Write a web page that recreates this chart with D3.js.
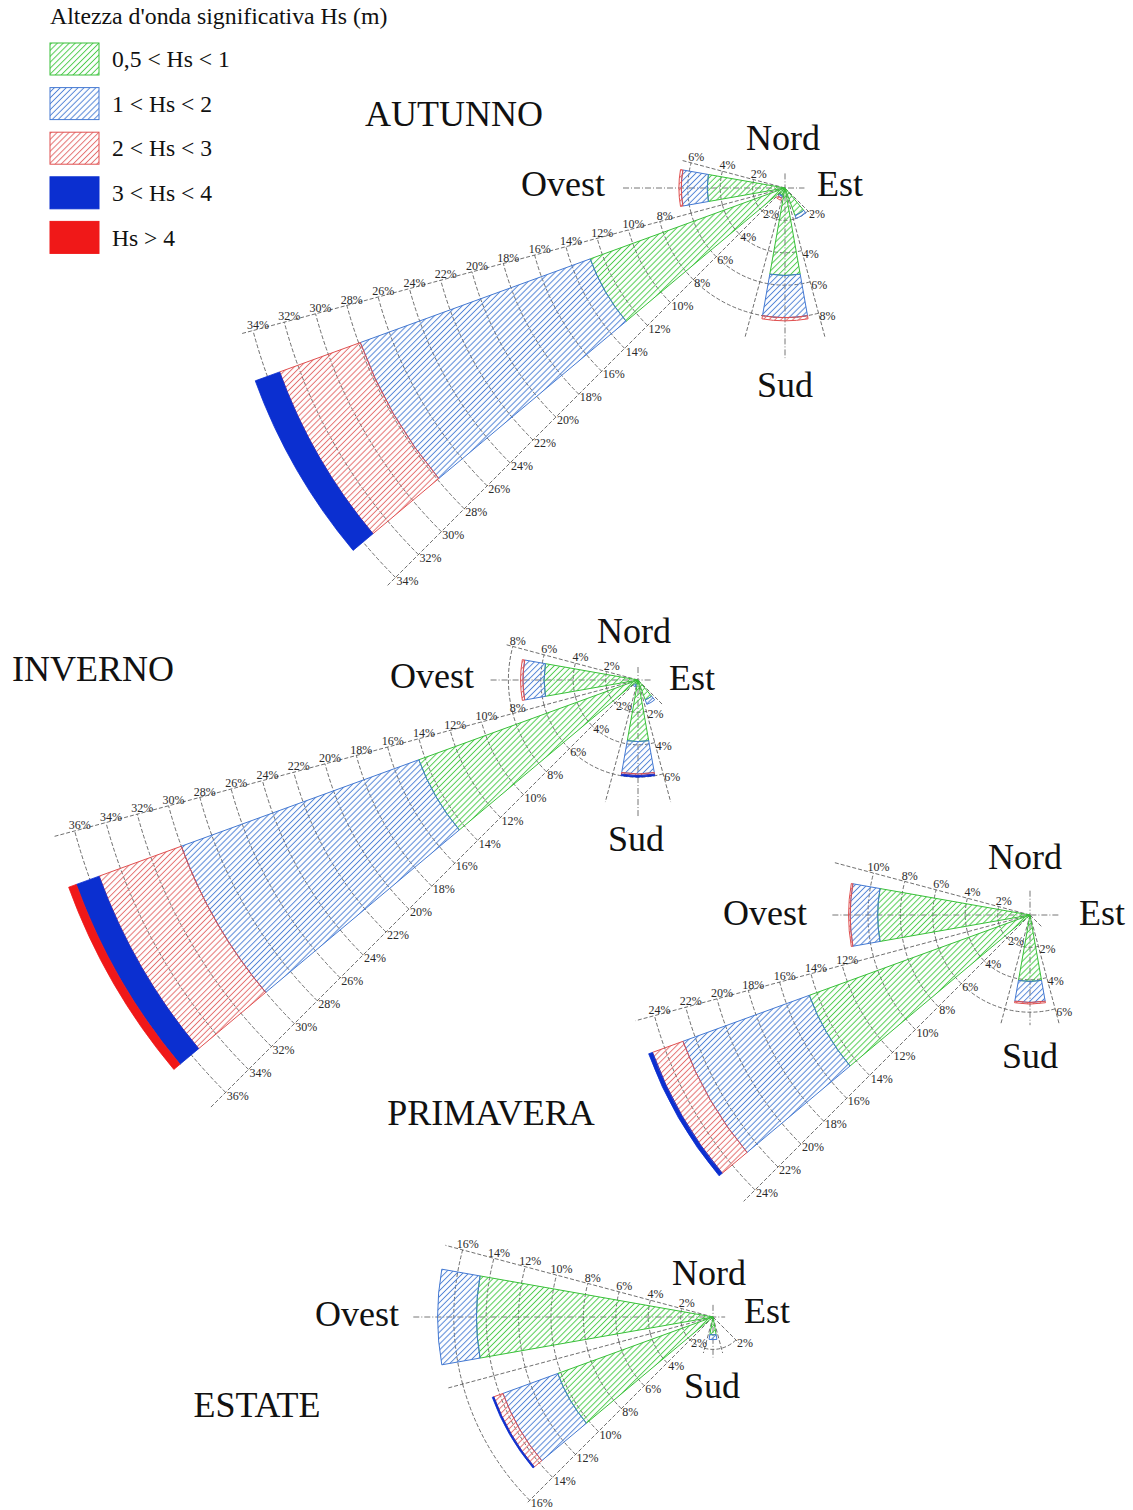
<!DOCTYPE html>
<html>
<head>
<meta charset="utf-8">
<script src="https://cdn.jsdelivr.net/npm/d3@7"></script>
<style>
  html, body { margin: 0; padding: 0; background: #fff; }
  svg { display: block; }
  text { font-family: "Liberation Serif", "Times New Roman", serif; }
</style>
</head>
<body>
<svg id="chart" width="1133" height="1510"></svg>
<script>
// Significant wave height classes (legend order)
const classes = ["0,5 < Hs < 1", "1 < Hs < 2", "2 < Hs < 3", "3 < Hs < 4", "Hs > 4"];
const legendTitle = "Altezza d'onda significativa Hs (m)";
const compassNames = ["Nord", "Est", "Sud", "Ovest"];
const seasons = ["AUTUNNO", "INVERNO", "PRIMAVERA", "ESTATE"];

// Frequency of occurrence (%) per direction sector (bearing, degrees), one value per class
const autunnoDirections = [150, 180, 210, 240, 270];
const autunnoFreq = [
  [1.8, 0.2, 0, 0, 0],
  [5.4, 2.6, 0.2, 0, 0],
  [0.5, 0.15, 0.15, 0, 0],
  [12.8, 15.1, 5.3, 1.6, 0],
  [4.8, 1.6, 0.15, 0, 0]
];
const invernoDirections = [150, 180, 210, 240, 270];
const invernoFreq = [
  [1.3, 0.3, 0, 0, 0],
  [3.8, 2.0, 0.1, 0.1, 0],
  [0.3, 0.15, 0, 0, 0],
  [14.4, 15.6, 5.4, 1.5, 0.5],
  [5.8, 1.3, 0.15, 0, 0]
];
const primaveraDirections = [180, 240, 270];
const primaveraFreq = [
  [4.1, 1.3, 0.1, 0, 0],
  [14.5, 8.3, 2.0, 0.25, 0],
  [9.4, 1.7, 0.1, 0, 0]
];
const estateDirections = [180, 240, 270];
const estateFreq = [
  [1.1, 0.3, 0, 0, 0],
  [10.2, 3.6, 0.6, 0.1, 0],
  [14.6, 2.4, 0, 0, 0]
];

// Frequency rings: [from bearing, to bearing, outermost ring %]
const autunnoRings = [[135, 165, 2], [165, 225, 8], [225, 255, 34], [255, 285, 6]];
const invernoRings = [[165, 225, 6], [225, 255, 36], [255, 285, 8]];
const primaveraRings = [[165, 225, 6], [225, 255, 24], [255, 285, 10]];
const estateRings = [[135, 225, 2], [225, 255, 16], [255, 285, 16]];

// Sector boundary lines: [bearing, length %]
const autunnoSpokes = [[135, 2.4], [165, 9.5], [195, 9.5], [225, 34.8], [255, 34.8], [285, 6.6]];
const invernoSpokes = [[135, 2.2], [165, 7.8], [195, 7.8], [225, 37.4], [255, 37.4], [285, 8.5]];
const primaveraSpokes = [[135, 1.0], [165, 7.0], [195, 7.0], [225, 25.0], [255, 25.2], [285, 12.5]];
const estateSpokes = [[135, 2.3], [165, 2.3], [195, 2.3], [225, 16.3], [255, 17.0], [285, 17.1]];

// Ring labels: [bearing of boundary line, first ring %, last ring %, side]
const autunnoTicks = [[285, 2, 6, "up"], [255, 8, 34, "up"], [225, 2, 34, "down"], [165, 4, 8, "down"], [135, 2, 2, "down"]];
const invernoTicks = [[285, 2, 8, "up"], [255, 8, 36, "up"], [225, 2, 36, "down"], [165, 2, 6, "down"]];
const primaveraTicks = [[285, 2, 10, "up"], [255, 12, 24, "up"], [225, 2, 24, "down"], [165, 2, 6, "down"]];
const estateTicks = [[285, 2, 16, "up"], [225, 2, 16, "down"], [135, 2, 2, "down"]];

// Cross-hair reach (%): [west, east, north, south]
const autunnoCross = [10, 1.2, 0.9, 10.5];
const invernoCross = [9.1, 0.8, 0.8, 8.5];
const primaveraCross = [12.2, 1.8, 1.5, 6.8];
const estateCross = [18.5, 0.75, 0.75, 2.5];

// ---- drawing ----
const svg = d3.select("#chart");
const defs = svg.append("defs");

const hatchColors = ["#4fcc4f", "#5485d6", "#e47070"];
const edgeColors = ["#38c038", "#4479d2", "#e05050", "#0b2fd0", "#f01818"];
const solidColors = [null, null, null, "#0b2fd0", "#f01818"];

hatchColors.forEach((c, i) => {
  const p = defs.append("pattern")
    .attr("id", "hatch" + i)
    .attr("patternUnits", "userSpaceOnUse")
    .attr("width", 4.2).attr("height", 4.2)
    .attr("patternTransform", "rotate(-45)");
  p.append("line")
    .attr("x1", -1).attr("y1", 2.1).attr("x2", 5.2).attr("y2", 2.1)
    .attr("stroke", c).attr("stroke-width", 1);
});
const fillFor = k => k < 3 ? `url(#hatch${k})` : solidColors[k];

const r = d3.scaleLinear().domain([0, 40]).range([0, 648]);
const rad = d => d * Math.PI / 180;
const polar = (b, v) => [r(v) * Math.sin(rad(b)), -r(v) * Math.cos(rad(b))];

function drawRose(spec, L) {
  const g = svg.append("g").attr("transform", `translate(${L.cx},${L.cy})`);
  const grid = g.append("g").attr("fill", "none").attr("stroke", "#4a4a4a")
    .attr("stroke-width", 0.8).attr("stroke-dasharray", "4,2");

  // frequency rings
  spec.rings.forEach(([b0, b1, max]) => {
    d3.range(2, max + 0.01, 2).forEach(v => {
      const p = d3.path();
      const R = r(v), t0 = rad(b0 - 90), t1 = rad(b1 - 90);
      p.moveTo(R * Math.cos(t0), R * Math.sin(t0));
      p.arc(0, 0, R, t0, t1);
      grid.append("path").attr("d", p.toString());
    });
  });

  // sector boundary lines
  spec.spokes.forEach(([b, len]) => {
    const [x, y] = polar(b, len);
    grid.append("line").attr("x1", 0).attr("y1", 0).attr("x2", x).attr("y2", y);
  });

  // cross-hair
  const [cw, ce, cn, cs] = spec.cross;
  const cross = g.append("g").attr("stroke", "#666").attr("stroke-width", 0.9)
    .attr("stroke-dasharray", "6,2,1,2");
  cross.append("line").attr("x1", polar(270, cw)[0]).attr("y1", 0).attr("x2", polar(90, ce)[0]).attr("y2", 0);
  cross.append("line").attr("x1", 0).attr("y1", polar(0, cn)[1]).attr("x2", 0).attr("y2", polar(180, cs)[1]);

  // stacked sectors
  const arc = d3.arc();
  const bars = g.append("g");
  spec.directions.forEach((dir, i) => {
    let acc = 0;
    spec.freq[i].forEach((v, k) => {
      if (v <= 0) return;
      const d = arc({
        innerRadius: r(acc), outerRadius: r(acc + v),
        startAngle: rad(dir - 10), endAngle: rad(dir + 10)
      });
      acc += v;
      bars.append("path").attr("d", d)
        .attr("fill", fillFor(k))
        .attr("stroke", edgeColors[k])
        .attr("stroke-width", k < 3 ? 1 : 0.8)
        .attr("stroke-linejoin", "round");
    });
  });

  // ring labels
  const lab = g.append("g").attr("font-size", 12).attr("fill", "#2a2a2a");
  spec.ticks.forEach(([b, from, to, side]) => {
    d3.range(from, to + 0.01, 2).forEach(v => {
      const [x, y] = polar(b, v);
      const t = lab.append("text").text(v + "%").attr("dy", "0.35em");
      if (side === "up") t.attr("x", x + 5).attr("y", y - 6).attr("text-anchor", "middle");
      else t.attr("x", x + 1).attr("y", y + 3).attr("text-anchor", "start");
    });
  });

  // compass names
  const big = g.append("g").attr("font-size", 36).attr("fill", "#111").attr("text-anchor", "middle");
  compassNames.forEach((name, i) => {
    const [dx, dy] = L.names[i];
    big.append("text").attr("x", dx).attr("y", dy).attr("dy", "0.35em").text(name);
  });

  // season title
  svg.append("text").attr("x", L.title[0]).attr("y", L.title[1]).attr("dy", "0.35em")
    .attr("text-anchor", "middle").attr("font-size", 36).attr("fill", "#111").text(spec.name);
}

// page layout: rose centres, title and compass-name offsets (px)
const layout = [
  { cx: 785, cy: 188, title: [454, 113], names: [[-2, -51], [55, -5], [0, 196], [-222, -5]] },
  { cx: 638, cy: 680, title: [93, 668], names: [[-4, -50], [54, -3], [-2, 158], [-206, -5]] },
  { cx: 1030, cy: 915, title: [491, 1112], names: [[-5, -59], [72, -3], [0, 140], [-265, -3]] },
  { cx: 713, cy: 1317, title: [257, 1404], names: [[-4, -45], [54, -7], [-1, 68], [-356, -4]] }
];

const roses = [
  { name: seasons[0], directions: autunnoDirections, freq: autunnoFreq, rings: autunnoRings, spokes: autunnoSpokes, ticks: autunnoTicks, cross: autunnoCross },
  { name: seasons[1], directions: invernoDirections, freq: invernoFreq, rings: invernoRings, spokes: invernoSpokes, ticks: invernoTicks, cross: invernoCross },
  { name: seasons[2], directions: primaveraDirections, freq: primaveraFreq, rings: primaveraRings, spokes: primaveraSpokes, ticks: primaveraTicks, cross: primaveraCross },
  { name: seasons[3], directions: estateDirections, freq: estateFreq, rings: estateRings, spokes: estateSpokes, ticks: estateTicks, cross: estateCross }
];
roses.forEach((s, i) => drawRose(s, layout[i]));

// legend
const legend = svg.append("g").attr("transform", "translate(50,0)");
legend.append("text").attr("x", 0).attr("y", 24).attr("font-size", 23.8).attr("fill", "#111").text(legendTitle);
classes.forEach((c, k) => {
  const y0 = 43 + k * 44.6;
  legend.append("rect").attr("x", 0).attr("y", y0).attr("width", 49).attr("height", 32)
    .attr("fill", fillFor(k)).attr("stroke", edgeColors[k]).attr("stroke-width", 1);
  legend.append("text").attr("x", 62).attr("y", y0 + 16).attr("dy", "0.35em")
    .attr("font-size", 23.6).attr("fill", "#111").text(c);
});
</script>
</body>
</html>
